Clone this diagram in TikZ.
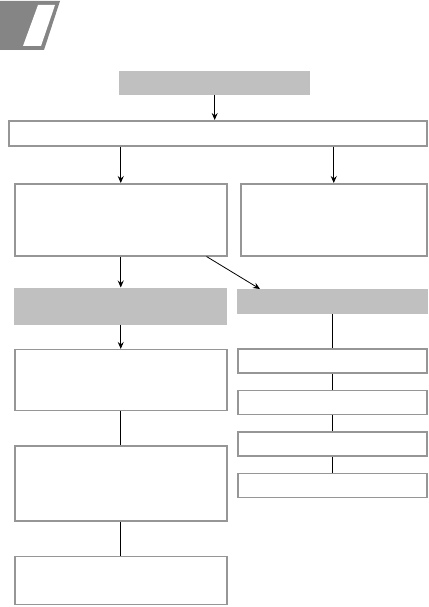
\documentclass[tikz,border=0pt]{standalone}
\usetikzlibrary{arrows.meta, positioning}
\definecolor{hdGray}{HTML}{C0C0C0}
\definecolor{frameGray}{HTML}{969696}
\definecolor{logoGray}{HTML}{858585}
\tikzset{
  headbox/.style={rectangle, fill=hdGray, inner sep=0pt},
  framebox/.style={rectangle, draw=frameGray, line width=1.5pt, fill=white, inner sep=0pt},
  flowarrow/.style={-{Stealth[length=7pt, width=6pt, inset=2.5pt]}, line width=0.8pt, black},
  flowline/.style={line width=0.8pt, black}
}

\begin{document}
\begin{tikzpicture}[x=1pt, y=-1pt]
  \useasboundingbox (0,0) rectangle (428,607);
  % corner logo
  \fill[logoGray] (0,1) -- (60,1) -- (44,50) -- (0,50) -- cycle;
  \fill[white] (38,5) -- (55,5) -- (41,46) -- (23,46) -- cycle;

  % top part
  \node[headbox, anchor=north west, minimum width=191pt, minimum height=24pt] (top) at (119,71) {};
  \node[framebox, anchor=north west, minimum width=418pt, minimum height=25pt] (wide) at (8,120) {};
  \node[framebox, anchor=north west, minimum width=212pt, minimum height=72pt] (l1) at (14,183) {};
  \node[framebox, anchor=north west, minimum width=186pt, minimum height=72pt] (r1) at (240,183) {};

  % left column
  \node[headbox, minimum width=213pt, minimum height=37pt, below=31pt of l1] (l2) {};
  \node[framebox, minimum width=212pt, minimum height=61pt, below=24pt of l2] (l3) {};
  \node[framebox, minimum width=212pt, minimum height=75pt, below=34pt of l3] (l4) {};
  \node[framebox, minimum width=212pt, minimum height=48pt, below=34pt of l4] (l5) {};

  % right column
  \node[headbox, anchor=north west, minimum width=191pt, minimum height=25pt] (r2) at (237,289) {};
  \node[framebox, minimum width=189pt, minimum height=24pt, below=34pt of r2] (r3) {};
  \node[framebox, minimum width=189pt, minimum height=24pt, below=16pt of r3] (r4) {};
  \node[framebox, minimum width=189pt, minimum height=24pt, below=16pt of r4] (r5) {};
  \node[framebox, minimum width=189pt, minimum height=24pt, below=16pt of r5] (r6) {};

  % connectors
  \draw[flowarrow] (top.south) -- (top.south |- wide.north);
  \draw[flowarrow] (wide.south -| l1) -- (l1.north);
  \draw[flowarrow] (wide.south -| r1) -- (r1.north);
  \draw[flowarrow] (l1.south) -- (l2.north);
  \draw[flowarrow] ([xshift=-21pt]l1.south east) -- ([xshift=23pt]r2.north west);
  \draw[flowarrow] (l2.south) -- (l3.north);
  \draw[flowline] (l3) -- (l4);
  \draw[flowline] (l4) -- (l5);
  \draw[flowline] (r2.south -| r3) -- (r3.north);
  \draw[flowline] (r3) -- (r4);
  \draw[flowline] (r4) -- (r5);
  \draw[flowline] (r5) -- (r6);
\end{tikzpicture}
\end{document}
